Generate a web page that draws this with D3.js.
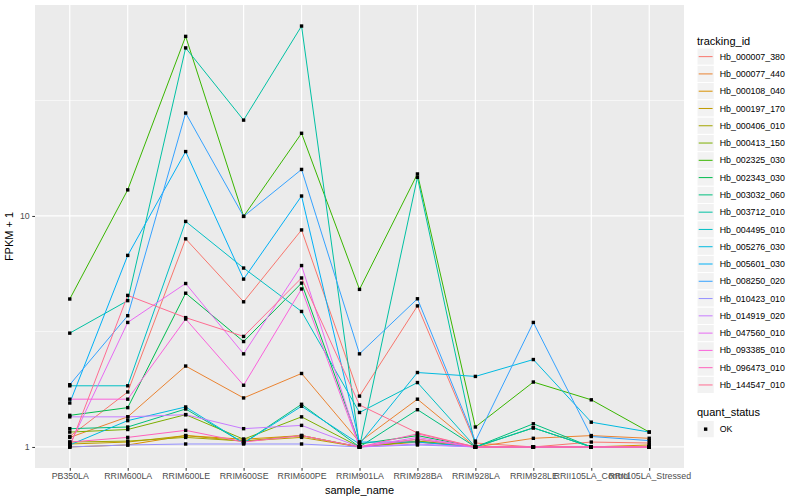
<!DOCTYPE html>
<html>
<head>
<meta charset="utf-8">
<script src="https://cdn.jsdelivr.net/npm/d3@7"></script>
<style>
  body { margin: 0; background: #fff; }
  text { font-family: "Liberation Sans", Arial, Helvetica, sans-serif; }
</style>
</head>
<body>
<div id="chart"></div>
<script>
// sample names on the x axis
const samples = ['PB350LA', 'RRIM600LA', 'RRIM600LE', 'RRIM600SE', 'RRIM600PE', 'RRIM901LA',
  'RRIM928BA', 'RRIM928LA', 'RRIM928LE', 'RRII105LA_Control', 'RRII105LA_Stressed'];

const trackingIds = ['Hb_000007_380', 'Hb_000077_440', 'Hb_000108_040', 'Hb_000197_170', 'Hb_000406_010',
  'Hb_000413_150', 'Hb_002325_030', 'Hb_002343_030', 'Hb_003032_060', 'Hb_003712_010', 'Hb_004495_010',
  'Hb_005276_030', 'Hb_005601_030', 'Hb_008250_020', 'Hb_010423_010', 'Hb_014919_020', 'Hb_047560_010',
  'Hb_093385_010', 'Hb_096473_010', 'Hb_144547_010'];

// FPKM + 1 per sample
const hb_000007_380 = [1.11, 1.73, 7.96, 4.25, 8.7, 1.66, 4.08, 1.04, 1.0, 1.05, 1.04];
const hb_000077_440 = [1.1, 1.35, 2.24, 1.63, 2.08, 1.05, 1.61, 1.0, 1.09, 1.12, 1.09];
const hb_000108_040 = [1.0, 1.02, 1.12, 1.08, 1.12, 1.0, 1.05, 1.0, 1.0, 1.0, 1.02];
const hb_000197_170 = [1.03, 1.05, 1.12, 1.06, 1.1, 1.0, 1.08, 1.0, 1.0, 1.0, 1.0];
const hb_000406_010 = [1.05, 1.06, 1.1, 1.06, 1.12, 1.0, 1.06, 1.0, 1.0, 1.0, 1.0];
const hb_000413_150 = [1.16, 1.19, 1.38, 1.08, 1.35, 1.0, 1.06, 1.0, 1.0, 1.0, 1.0];
const hb_002325_030 = [4.37, 12.97, 59.9, 9.96, 22.8, 4.81, 15.2, 1.22, 1.91, 1.6, 1.16];
const hb_002343_030 = [1.37, 1.48, 4.63, 2.86, 5.12, 1.03, 1.12, 1.0, 1.21, 1.0, 1.0];
const hb_003032_060 = [1.2, 1.22, 1.46, 1.04, 1.53, 1.0, 1.45, 1.0, 1.26, 1.0, 1.0];
const hb_003712_010 = [3.11, 4.3, 53.4, 26.0, 66.4, 1.0, 14.7, 1.0, 1.21, 1.0, 1.0];
const hb_004495_010 = [1.84, 1.84, 9.47, 5.95, 3.86, 1.41, 1.9, 1.0, 1.0, 1.0, 1.0];
const hb_005276_030 = [1.02, 1.3, 1.49, 1.04, 1.5, 1.03, 2.1, 2.02, 2.39, 1.28, 1.16];
const hb_005601_030 = [1.55, 6.75, 19.0, 5.33, 12.2, 1.05, 1.05, 1.0, 1.0, 1.0, 1.0];
const hb_008250_020 = [1.86, 3.7, 27.9, 9.96, 15.9, 2.53, 4.38, 1.06, 3.46, 1.11, 1.065];
const hb_010423_010 = [1.0, 1.02, 1.03, 1.03, 1.03, 1.0, 1.02, 1.0, 1.0, 1.0, 1.0];
const hb_014919_020 = [1.35, 1.35, 1.38, 1.2, 1.24, 1.0, 1.03, 1.0, 1.0, 1.0, 1.0];
const hb_047560_010 = [1.02, 3.46, 5.1, 2.53, 6.1, 1.0, 1.1, 1.0, 1.0, 1.0, 1.0];
const hb_093385_010 = [1.61, 1.61, 3.58, 1.85, 4.83, 1.0, 1.08, 1.0, 1.0, 1.0, 1.0];
const hb_096473_010 = [1.05, 1.1, 1.18, 1.05, 1.12, 1.0, 1.14, 1.0, 1.0, 1.0, 1.0];
const hb_144547_010 = [1.0, 4.53, 3.63, 3.01, 5.39, 1.52, 1.15, 1.0, 1.0, 1.0, 1.0];

const seriesValues = [hb_000007_380, hb_000077_440, hb_000108_040, hb_000197_170, hb_000406_010,
  hb_000413_150, hb_002325_030, hb_002343_030, hb_003032_060, hb_003712_010, hb_004495_010,
  hb_005276_030, hb_005601_030, hb_008250_020, hb_010423_010, hb_014919_020, hb_047560_010,
  hb_093385_010, hb_096473_010, hb_144547_010];

const yTicks = [1, 10];
const yMinor = [Math.sqrt(10), Math.sqrt(1000)];

// ggplot default hue palette for 20 groups
const colors = ['#F8766D', '#EA8331', '#D89000', '#C09B00', '#A3A500', '#7CAE00', '#39B600', '#00BB4E',
  '#00BF7D', '#00C1A3', '#00BFC4', '#00BAE0', '#00B0F6', '#35A2FF', '#9590FF', '#C77CFF', '#E76BF3',
  '#FA62DB', '#FF62BC', '#FF6C91'];

const width = 800, height = 500;
const panel = { left: 35, right: 684, top: 5, bottom: 468 };

const svg = d3.select('#chart').append('svg')
  .attr('width', width)
  .attr('height', height);

// scales
const x = d3.scalePoint()
  .domain(samples)
  .range([panel.left, panel.right])
  .padding(0.6);

const allVals = seriesValues.flat();
const lo = Math.log10(d3.min(allVals));
const hi = Math.log10(d3.max(allVals));
const pad = (hi - lo) * 0.05;
const y = d3.scaleLog()
  .domain([Math.pow(10, lo - pad), Math.pow(10, hi + pad)])
  .range([panel.bottom, panel.top]);

// panel background and grid
svg.append('rect')
  .attr('x', panel.left).attr('y', panel.top)
  .attr('width', panel.right - panel.left)
  .attr('height', panel.bottom - panel.top)
  .attr('fill', '#EBEBEB');

svg.selectAll('.minor')
  .data(yMinor)
  .enter().append('line')
  .attr('x1', panel.left).attr('x2', panel.right)
  .attr('y1', d => y(d)).attr('y2', d => y(d))
  .attr('stroke', '#fff').attr('stroke-width', 0.6);

svg.selectAll('.majorY')
  .data(yTicks)
  .enter().append('line')
  .attr('x1', panel.left).attr('x2', panel.right)
  .attr('y1', d => y(d)).attr('y2', d => y(d))
  .attr('stroke', '#fff').attr('stroke-width', 1.2);

svg.selectAll('.majorX')
  .data(samples)
  .enter().append('line')
  .attr('x1', d => x(d)).attr('x2', d => x(d))
  .attr('y1', panel.top).attr('y2', panel.bottom)
  .attr('stroke', '#fff').attr('stroke-width', 1.2);

// lines
const line = d3.line()
  .x((d, i) => x(samples[i]))
  .y(d => y(d));

svg.selectAll('.series')
  .data(seriesValues)
  .enter().append('path')
  .attr('d', d => line(d))
  .attr('fill', 'none')
  .attr('stroke', (d, i) => colors[i])
  .attr('stroke-width', 1);

// points
const pts = [];
seriesValues.forEach((vals, s) => vals.forEach((v, i) => pts.push({ s: samples[i], v: v })));
svg.selectAll('.pt')
  .data(pts)
  .enter().append('rect')
  .attr('x', d => x(d.s) - 1.7)
  .attr('y', d => y(d.v) - 1.7)
  .attr('width', 3.4).attr('height', 3.4)
  .attr('fill', '#000');

// axes
const xAxis = svg.append('g')
  .attr('transform', `translate(0,${panel.bottom})`)
  .call(d3.axisBottom(x).tickSize(2.75).tickPadding(2.5));
const yAxis = svg.append('g')
  .attr('transform', `translate(${panel.left},0)`)
  .call(d3.axisLeft(y).tickValues(yTicks).tickFormat(d3.format('d')).tickSize(2.75).tickPadding(2.5));

[xAxis, yAxis].forEach(g => {
  g.select('.domain').remove();
  g.selectAll('line').attr('stroke', '#333333').attr('stroke-width', 1);
  g.selectAll('text').attr('fill', '#4D4D4D').style('font-size', '8.8px');
});

svg.append('text')
  .attr('x', (panel.left + panel.right) / 2)
  .attr('y', 494)
  .attr('text-anchor', 'middle')
  .style('font-size', '11px')
  .text('sample_name');

svg.append('text')
  .attr('transform', `translate(13,${(panel.top + panel.bottom) / 2}) rotate(-90)`)
  .attr('text-anchor', 'middle')
  .style('font-size', '11px')
  .text('FPKM + 1');

// legend: tracking_id
const legX = 697, keySize = 17.28;
svg.append('text')
  .attr('x', legX).attr('y', 44.5)
  .style('font-size', '11px')
  .text('tracking_id');

const keys = svg.selectAll('.key')
  .data(trackingIds)
  .enter().append('g')
  .attr('transform', (d, i) => `translate(${legX},${48 + i * keySize})`);

keys.append('rect')
  .attr('width', keySize).attr('height', keySize)
  .attr('fill', '#F2F2F2').attr('stroke', '#fff').attr('stroke-width', 1);
keys.append('line')
  .attr('x1', 1.7).attr('x2', keySize - 1.7)
  .attr('y1', keySize / 2).attr('y2', keySize / 2)
  .attr('stroke', (d, i) => colors[i]).attr('stroke-width', 1);
keys.append('text')
  .attr('x', keySize + 5.5).attr('y', keySize / 2 + 3.1)
  .style('font-size', '8.8px')
  .text(d => d);

// legend: quant_status
svg.append('text')
  .attr('x', legX).attr('y', 416)
  .style('font-size', '11px')
  .text('quant_status');

const ok = svg.append('g').attr('transform', `translate(${legX},420.5)`);
ok.append('rect')
  .attr('width', keySize).attr('height', keySize)
  .attr('fill', '#F2F2F2').attr('stroke', '#fff').attr('stroke-width', 1);
ok.append('rect')
  .attr('x', keySize / 2 - 1.7).attr('y', keySize / 2 - 1.7)
  .attr('width', 3.4).attr('height', 3.4)
  .attr('fill', '#000');
ok.append('text')
  .attr('x', keySize + 5.5).attr('y', keySize / 2 + 3.1)
  .style('font-size', '8.8px')
  .text('OK');
</script>
</body>
</html>
